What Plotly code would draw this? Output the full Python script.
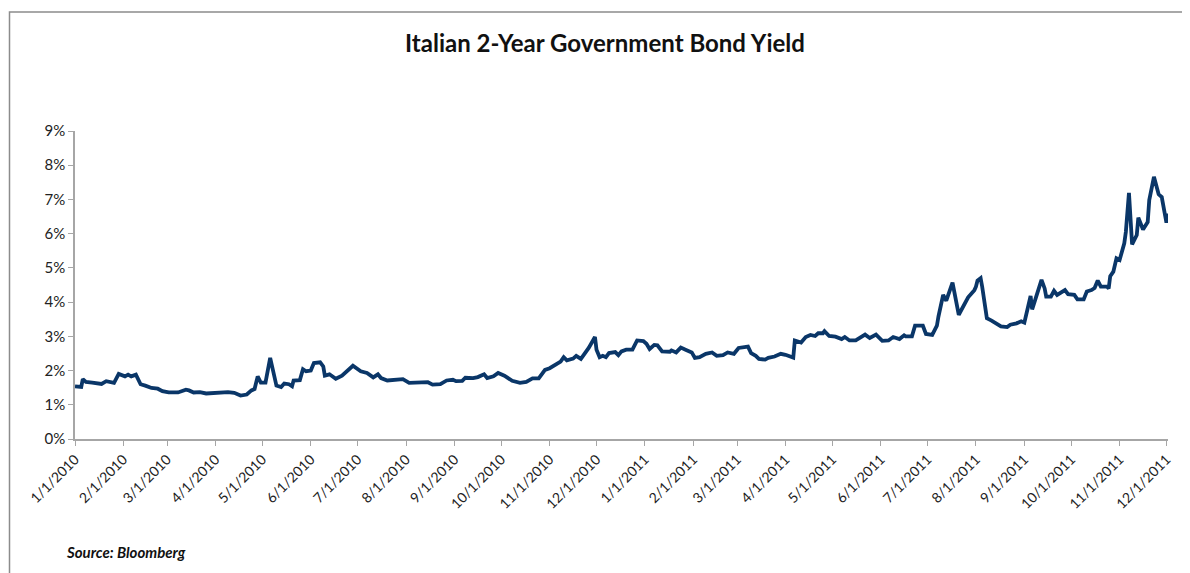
import plotly.graph_objects as go

# Italian 2-year government bond yield (%)
dates = [
    "2010-01-01", "2010-01-05", "2010-01-06", "2010-01-08", "2010-01-12", "2010-01-18", "2010-01-21",
    "2010-01-26", "2010-01-29", "2010-02-02", "2010-02-04", "2010-02-06", "2010-02-09", "2010-02-12",
    "2010-02-15", "2010-02-19", "2010-02-23", "2010-02-26", "2010-03-02", "2010-03-08", "2010-03-13",
    "2010-03-15", "2010-03-18", "2010-03-22", "2010-03-26", "2010-04-01", "2010-04-06", "2010-04-09",
    "2010-04-13", "2010-04-17", "2010-04-21", "2010-04-24", "2010-04-26", "2010-04-28", "2010-04-30",
    "2010-05-03", "2010-05-06", "2010-05-08", "2010-05-10", "2010-05-13", "2010-05-15", "2010-05-18",
    "2010-05-20", "2010-05-21", "2010-05-25", "2010-05-27", "2010-05-29", "2010-06-01", "2010-06-03",
    "2010-06-07", "2010-06-09", "2010-06-10", "2010-06-13", "2010-06-17", "2010-06-21", "2010-06-28",
    "2010-07-03", "2010-07-07", "2010-07-11", "2010-07-14", "2010-07-16", "2010-07-20", "2010-07-26",
    "2010-07-30", "2010-08-03", "2010-08-08", "2010-08-12", "2010-08-15", "2010-08-18", "2010-08-23",
    "2010-08-27", "2010-08-31", "2010-09-02", "2010-09-06", "2010-09-08", "2010-09-13", "2010-09-16",
    "2010-09-20", "2010-09-22", "2010-09-26", "2010-09-29", "2010-10-03", "2010-10-08", "2010-10-13",
    "2010-10-17", "2010-10-21", "2010-10-25", "2010-10-29", "2010-11-01", "2010-11-05", "2010-11-08",
    "2010-11-10", "2010-11-12", "2010-11-16", "2010-11-18", "2010-11-21", "2010-11-24", "2010-11-26",
    "2010-11-30", "2010-12-01", "2010-12-03", "2010-12-05", "2010-12-07", "2010-12-09", "2010-12-13",
    "2010-12-15", "2010-12-17", "2010-12-20", "2010-12-24", "2010-12-27", "2010-12-31", "2011-01-02",
    "2011-01-04", "2011-01-07", "2011-01-09", "2011-01-12", "2011-01-17", "2011-01-18", "2011-01-21",
    "2011-01-24", "2011-01-27", "2011-01-31", "2011-02-02", "2011-02-05", "2011-02-09", "2011-02-13",
    "2011-02-16", "2011-02-20", "2011-02-23", "2011-02-27", "2011-03-02", "2011-03-06", "2011-03-08",
    "2011-03-10", "2011-03-13", "2011-03-15", "2011-03-19", "2011-03-21", "2011-03-25", "2011-03-29",
    "2011-04-01", "2011-04-06", "2011-04-07", "2011-04-11", "2011-04-14", "2011-04-17", "2011-04-20",
    "2011-04-22", "2011-04-25", "2011-04-26", "2011-04-29", "2011-05-03", "2011-05-07", "2011-05-09",
    "2011-05-12", "2011-05-16", "2011-05-20", "2011-05-22", "2011-05-25", "2011-05-29", "2011-06-02",
    "2011-06-06", "2011-06-09", "2011-06-13", "2011-06-16", "2011-06-17", "2011-06-21", "2011-06-23",
    "2011-06-28", "2011-06-30", "2011-07-04", "2011-07-07", "2011-07-08", "2011-07-11", "2011-07-13",
    "2011-07-17", "2011-07-21", "2011-07-24", "2011-07-27", "2011-07-31", "2011-08-01", "2011-08-02",
    "2011-08-04", "2011-08-05", "2011-08-08", "2011-08-11", "2011-08-14", "2011-08-17", "2011-08-21",
    "2011-08-23", "2011-08-27", "2011-08-30", "2011-09-01", "2011-09-04", "2011-09-05", "2011-09-06",
    "2011-09-09", "2011-09-12", "2011-09-14", "2011-09-15", "2011-09-18", "2011-09-20", "2011-09-22",
    "2011-09-24", "2011-09-27", "2011-09-29", "2011-10-03", "2011-10-05", "2011-10-09", "2011-10-11",
    "2011-10-14", "2011-10-16", "2011-10-18", "2011-10-20", "2011-10-24", "2011-10-25", "2011-10-26",
    "2011-10-28", "2011-10-30", "2011-11-01", "2011-11-04", "2011-11-05", "2011-11-07", "2011-11-09",
    "2011-11-12", "2011-11-13", "2011-11-16", "2011-11-19", "2011-11-20", "2011-11-23", "2011-11-26",
    "2011-11-28", "2011-12-01", "2011-12-02",
]

yields = [
    1.54, 1.52, 1.75, 1.67, 1.65, 1.61, 1.69,
    1.64, 1.90, 1.83, 1.88, 1.83, 1.88, 1.60,
    1.56, 1.49, 1.47, 1.40, 1.36, 1.36, 1.44,
    1.42, 1.36, 1.37, 1.33, 1.35, 1.35, 1.37,
    1.35, 1.27, 1.30, 1.42, 1.46, 1.83, 1.65,
    1.65, 2.37, 1.93, 1.56, 1.52, 1.62, 1.60,
    1.54, 1.71, 1.72, 2.04, 1.98, 2.00, 2.22,
    2.24, 2.12, 1.85, 1.89, 1.76, 1.85, 2.14,
    1.98, 1.93, 1.80, 1.89, 1.78, 1.71, 1.73,
    1.75, 1.64, 1.64, 1.65, 1.66, 1.59, 1.60,
    1.71, 1.73, 1.69, 1.70, 1.79, 1.78, 1.81,
    1.89, 1.78, 1.83, 1.93, 1.85, 1.70, 1.64,
    1.67, 1.77, 1.77, 2.02, 2.07, 2.17, 2.26,
    2.39, 2.30, 2.35, 2.43, 2.34, 2.51, 2.66,
    2.98, 2.61, 2.39, 2.43, 2.39, 2.51, 2.54,
    2.45, 2.56, 2.61, 2.61, 2.88, 2.86, 2.78,
    2.63, 2.75, 2.74, 2.56, 2.55, 2.59, 2.53,
    2.67, 2.61, 2.53, 2.37, 2.39, 2.49, 2.53,
    2.43, 2.45, 2.53, 2.49, 2.66, 2.67, 2.70,
    2.51, 2.43, 2.34, 2.32, 2.37, 2.41, 2.49,
    2.46, 2.38, 2.88, 2.82, 2.98, 3.04, 3.01,
    3.09, 3.09, 3.15, 3.01, 2.99, 2.92, 2.98,
    2.88, 2.88, 2.98, 3.05, 2.95, 3.05, 2.87,
    2.88, 2.98, 2.92, 3.03, 3.00, 3.00, 3.31,
    3.31, 3.07, 3.04, 3.31, 3.58, 4.21, 4.04,
    4.57, 3.63, 3.87, 4.14, 4.35, 4.45, 4.63,
    4.70, 4.45, 3.53, 3.46, 3.38, 3.29, 3.27,
    3.34, 3.38, 3.44, 3.40, 4.06, 4.18, 3.79,
    4.26, 4.65, 4.40, 4.16, 4.16, 4.33, 4.21,
    4.28, 4.35, 4.23, 4.21, 4.08, 4.08, 4.31,
    4.35, 4.41, 4.63, 4.45, 4.45, 4.40, 4.76,
    4.89, 5.28, 5.23, 5.72, 6.05, 7.19, 5.69,
    5.96, 6.47, 6.12, 6.34, 6.98, 7.66, 7.15,
    7.07, 6.32, 6.59,
]

tick_dates = [
    "2010-01-01", "2010-02-01", "2010-03-01", "2010-04-01", "2010-05-01", "2010-06-01",
    "2010-07-01", "2010-08-01", "2010-09-01", "2010-10-01", "2010-11-01", "2010-12-01",
    "2011-01-01", "2011-02-01", "2011-03-01", "2011-04-01", "2011-05-01", "2011-06-01",
    "2011-07-01", "2011-08-01", "2011-09-01", "2011-10-01", "2011-11-01", "2011-12-01",
]
tick_labels = [
    "1/1/2010", "2/1/2010", "3/1/2010", "4/1/2010", "5/1/2010", "6/1/2010",
    "7/1/2010", "8/1/2010", "9/1/2010", "10/1/2010", "11/1/2010", "12/1/2010",
    "1/1/2011", "2/1/2011", "3/1/2011", "4/1/2011", "5/1/2011", "6/1/2011",
    "7/1/2011", "8/1/2011", "9/1/2011", "10/1/2011", "11/1/2011", "12/1/2011",
]
y_ticks = [0, 1, 2, 3, 4, 5, 6, 7, 8, 9]
y_labels = ["0%", "1%", "2%", "3%", "4%", "5%", "6%", "7%", "8%", "9%"]

FONT = "Lato, Open Sans, Arial, sans-serif"

# page offset of the figure inside the browser window (body margin)
OFF = 8
W, H = 1190, 573
L, T, R, B = 75 - OFF, 131 - OFF, W - (1168 - OFF), H - (439 - OFF)
PW, PH = W - L - R, H - T - B


def px(x):
    return (x - OFF - L) / PW


def py(y):
    return (H - B - (y - OFF)) / PH


fig = go.Figure()
fig.add_trace(go.Scatter(
    x=dates, y=yields, mode="lines",
    line=dict(color="#0a3668", width=3.8),
    showlegend=False,
))

fig.update_layout(
    width=W, height=H,
    margin=dict(l=L, r=R, t=T, b=B),
    paper_bgcolor="white", plot_bgcolor="white",
    font=dict(family=FONT, color="#333333", size=14),
    title=dict(
        text="<b>Italian 2-Year Government Bond Yield</b>",
        x=(605 - OFF) / W, xanchor="center", y=1 - (44 - OFF) / H, yanchor="middle",
        font=dict(family=FONT, size=24, color="#111111"),
    ),
    xaxis=dict(
        type="date",
        range=["2010-01-01", "2011-12-02"],
        tickmode="array", tickvals=tick_dates, ticktext=tick_labels,
        tickangle=-45, showgrid=False, zeroline=False,
        showline=True, linecolor="#a6a6a6", linewidth=1.5,
        ticks="outside", ticklen=5, tickcolor="#a6a6a6",
        tickfont=dict(family=FONT, size=14, color="#222222"),
    ),
    yaxis=dict(
        range=[0, 9],
        tickmode="array", tickvals=y_ticks, ticktext=y_labels,
        showgrid=False, zeroline=False,
        showline=True, linecolor="#a6a6a6", linewidth=1.5,
        ticks="outside", ticklen=5, tickcolor="#a6a6a6",
        tickfont=dict(family=FONT, size=15, color="#222222"),
    ),
    shapes=[dict(
        type="rect", xref="paper", yref="paper",
        x0=px(9.5), x1=px(1205),
        y0=py(590), y1=py(12),
        line=dict(color="#8c8c8c", width=1.5), fillcolor="rgba(0,0,0,0)",
        layer="below",
    )],
    annotations=[dict(
        text="<b><i>Source: Bloomberg</i></b>",
        xref="paper", yref="paper",
        x=px(64), xanchor="left",
        y=py(552), yanchor="middle",
        showarrow=False,
        font=dict(family=FONT, size=15, color="#111111"),
    )],
)

fig.write_html("out.html")
